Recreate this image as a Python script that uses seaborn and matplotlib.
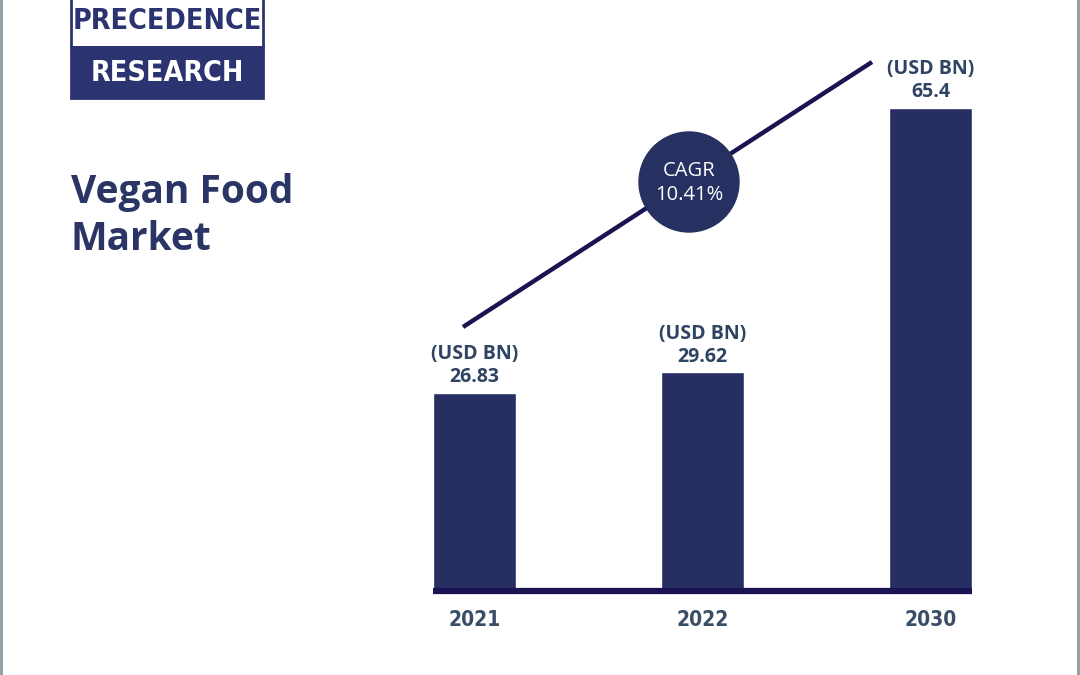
import matplotlib
matplotlib.use("Agg")
import matplotlib.pyplot as plt
import seaborn as sns
import pandas as pd
from matplotlib.patches import Rectangle, Circle

years = ["2021", "2022", "2030"]
values = [26.83, 29.62, 65.4]
unit_label = "(USD BN)"
title = "Vegan Food\nMarket"
cagr_text = "CAGR\n10.41%"

sns.set_theme(style="white")
plt.rcParams['font.family'] = ['Open Sans', 'DejaVu Sans']

W, H = 1080, 675
fig = plt.figure(figsize=(10.8, 6.75), dpi=100)
fig.patch.set_facecolor("white")

def fx(px):
    return px / W

def fy(py):
    return 1 - py / H

bar_color = "#262e62"
line_color = "#1b1452"
text_color = "#2e4462"

ax_left, ax_right = 433, 972
ax_bottom, ax_top = 591, 60
ax = fig.add_axes([fx(ax_left), fy(ax_bottom), fx(ax_right - ax_left), (ax_bottom - ax_top) / H])
ax.set_facecolor("none")

df = pd.DataFrame({"year": years, "value": values})
sns.barplot(data=df, x="year", y="value", color=bar_color, width=0.364,
            saturation=1, ax=ax, order=years)
ax.set_xlim(-0.182, 2.182)
px_per_unit = (ax_bottom - 108) / 65.4
ax.set_ylim(0, (ax_bottom - ax_top) / px_per_unit)

for s in ["top", "right", "left"]:
    ax.spines[s].set_visible(False)
ax.spines["bottom"].set_linewidth(4.5)
ax.spines["bottom"].set_color(line_color)
ax.spines["bottom"].set_capstyle("butt")
ax.set_yticks([])
ax.set_xlabel("")
ax.set_ylabel("")
ax.tick_params(axis="x", length=0, pad=14)
ax.set_xticks(range(len(years)))
ax.set_xticklabels(years, family=['DejaVu Sans'], fontstretch='condensed',
                   fontsize=15, fontweight="bold", color="#3a4d66")

for i, v in enumerate(values):
    ax.annotate(f"{unit_label}\n{v}", xy=(i, v), xytext=(0, 4), textcoords="offset points",
                ha="center", va="bottom", fontsize=14, fontweight="bold",
                color=text_color, linespacing=1.2)

ax_c = fig.add_axes([0, 0, 1, 1], facecolor="none")
ax_c.set_xlim(0, W)
ax_c.set_ylim(H, 0)
ax_c.axis("off")
ax_c.plot([463, 872], [327, 62], color=line_color, lw=3.2, zorder=5, solid_capstyle="butt")
ax_c.add_patch(Circle((689, 182), 50, color="#263061", zorder=6))
ax_c.text(689, 183, cagr_text, ha="center", va="center", color="white",
          fontsize=14.5, linespacing=1.25, zorder=7)

ax_c.text(71, 216, title, ha="left", va="center", fontsize=28, fontweight="bold",
          color="#2a3565", linespacing=1.25)

ax_c.add_patch(Rectangle((71, -5), 192, 52, facecolor="white", edgecolor="#2b3470", lw=2, zorder=3))
ax_c.add_patch(Rectangle((71, 47), 192, 51, facecolor="#2b3470", edgecolor="#2b3470", lw=2, zorder=3))
ax_c.text(167, 21, "PRECEDENCE", ha="center", va="center", fontsize=20.5, fontweight="bold",
          color="#2b3470", family=['DejaVu Sans'], fontstretch='condensed', zorder=4)
ax_c.text(167, 73, "RESEARCH", ha="center", va="center", fontsize=20.5, fontweight="bold",
          color="white", family=['DejaVu Sans'], fontstretch='condensed', zorder=4)

ax_c.plot([1, 1], [0, H], color="#8a9aa0", lw=2)
ax_c.plot([1078, 1078], [0, H], color="#8a9aa0", lw=2)

fig.savefig("out.png", dpi=100, facecolor="white")
